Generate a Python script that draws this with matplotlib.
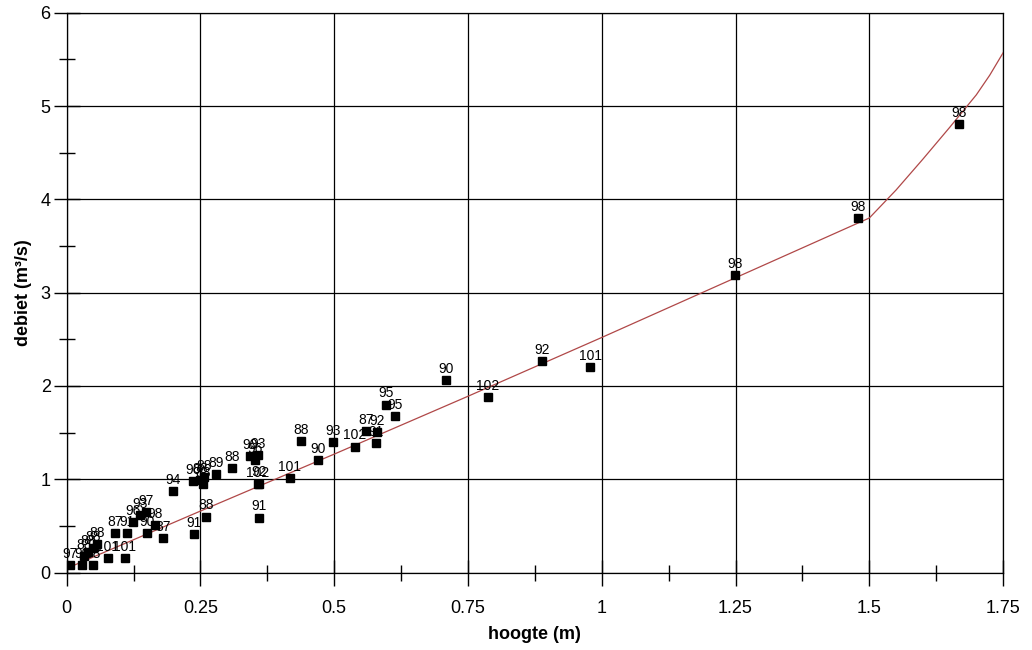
import matplotlib.pyplot as plt
from matplotlib.ticker import MultipleLocator

plt.rcParams['font.family'] = ['Liberation Sans', 'DejaVu Sans']

# meetpunten: hoogte (m), debiet (m3/s), jaar
h = [0.006, 0.028, 0.049, 0.032, 0.040, 0.049, 0.057,
     0.077, 0.109, 0.090, 0.112, 0.124, 0.137, 0.148, 0.150, 0.165, 0.180,
     0.199, 0.238, 0.237, 0.250, 0.255, 0.257, 0.260, 0.280, 0.309,
     0.342, 0.352, 0.357, 0.357, 0.360, 0.359,
     0.417, 0.438, 0.469, 0.498, 0.539, 0.559, 0.580, 0.578, 0.597, 0.613,
     0.709, 0.787, 0.888, 0.978, 1.249, 1.479, 1.667]
q = [0.08, 0.08, 0.08, 0.18, 0.22, 0.26, 0.31,
     0.16, 0.16, 0.42, 0.42, 0.54, 0.62, 0.65, 0.42, 0.51, 0.37,
     0.87, 0.41, 0.98, 0.99, 0.95, 1.02, 0.60, 1.06, 1.12,
     1.25, 1.21, 1.26, 0.95, 0.955, 0.59,
     1.01, 1.41, 1.21, 1.40, 1.35, 1.52, 1.51, 1.39, 1.80, 1.68,
     2.06, 1.88, 2.27, 2.20, 3.19, 3.80, 4.81]
jaar = ['97', '90', '98', '88', '88', '88', '88',
        '101', '101', '87', '91', '96', '93', '97', '90', '98', '87',
        '94', '91', '96', '88', '88', '88', '88', '89', '88',
        '90', '96', '93', '102', '92', '91',
        '101', '88', '90', '93', '102', '87', '92', '91', '95', '95',
        '90', '102', '92', '101', '98', '98', '98']

kh = [0.01, 0.25, 0.50, 0.75, 1.00, 1.25, 1.50, 1.55, 1.60, 1.65, 1.70, 1.725, 1.75]
kq = [0.07, 0.66, 1.27, 1.89, 2.52, 3.16, 3.80, 4.10, 4.43, 4.77, 5.12, 5.33, 5.57]

xticks = [0, 0.25, 0.5, 0.75, 1, 1.25, 1.5, 1.75]
xlabels = ['0', '0.25', '0.5', '0.75', '1', '1.25', '1.5', '1.75']

fig = plt.figure(figsize=(10.32, 6.5), dpi=100)
ax = fig.add_axes([0.0646, 0.119, 0.9074, 0.8615])

ax.plot(kh, kq, color='#b04848', lw=0.9, zorder=3)
ax.plot(h, q, 's', color='black', ms=5.5, zorder=4)
for xi, yi, t in zip(h, q, jaar):
    ax.annotate(t, (xi, yi), xytext=(0, 3), textcoords='offset points',
                ha='center', va='bottom', fontsize=10, zorder=5)

ax.set_xlim(0, 1.75)
ax.set_ylim(0, 6)
ax.set_xticks(xticks)
ax.set_xticklabels(xlabels)
ax.xaxis.set_minor_locator(MultipleLocator(0.125))
ax.yaxis.set_minor_locator(MultipleLocator(0.5))
ax.tick_params(which='major', direction='inout', length=19, width=1, labelsize=13, pad=2)
ax.tick_params(axis='x', which='major', pad=10)
ax.tick_params(which='minor', direction='inout', length=12, width=1)
ax.grid(True, which='major', color='black', lw=0.9)
ax.set_axisbelow(True)
for s in ax.spines.values():
    s.set_linewidth(0.9)

ax.set_xlabel('hoogte (m)', fontsize=13, fontweight='bold', labelpad=7)
ax.set_ylabel('debiet (m³/s)', fontsize=13, fontweight='bold', labelpad=6)

fig.savefig('out.png', dpi=100)
